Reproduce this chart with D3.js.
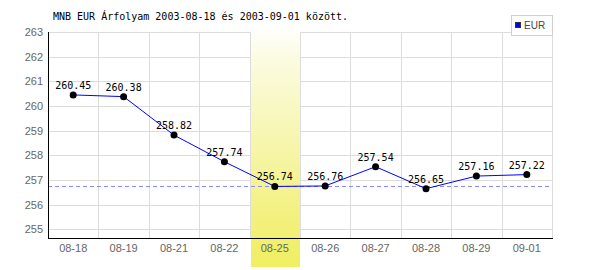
<!DOCTYPE html>
<html>
<head>
<meta charset="utf-8">
<script src="https://cdn.jsdelivr.net/npm/d3@7"></script>
<style>
  body { margin: 0; background: #fff; }
  svg { display: block; }
</style>
</head>
<body>
<svg class="chart"></svg>
<script>
const dates = ['08-18', '08-19', '08-21', '08-22', '08-25', '08-26', '08-27', '08-28', '08-29', '09-01'];
const rates = [260.45, 260.38, 258.82, 257.74, 256.74, 256.76, 257.54, 256.65, 257.16, 257.22];
const yTicks = [255, 256, 257, 258, 259, 260, 261, 262, 263];
const highlightDate = '08-25';
const refLevel = 256.74;
const seriesName = 'EUR';
const title = 'MNB EUR Árfolyam 2003-08-18 és 2003-09-01 között.';

const width = 600, height = 270;
const plotLeft = 48, plotRight = 552, plotTop = 32, plotBottom = 238;

const svg = d3.select('svg.chart')
  .attr('width', width)
  .attr('height', height);

const x = d3.scaleBand().domain(dates).range([plotLeft, plotRight]);
const y = d3.scaleLinear().domain([254.65, 263]).range([plotBottom, plotTop]);

// gradient for the highlighted day
const grad = svg.append('defs').append('linearGradient')
  .attr('id', 'hl').attr('x1', 0).attr('y1', 0).attr('x2', 0).attr('y2', 1);
grad.append('stop').attr('offset', '0%').attr('stop-color', '#ffffff');
grad.append('stop').attr('offset', '15%').attr('stop-color', '#fbfbe0');
grad.append('stop').attr('offset', '100%').attr('stop-color', '#f0ee60');

// grid
svg.append('g')
  .selectAll('line')
  .data(yTicks)
  .join('line')
  .attr('x1', plotLeft).attr('x2', plotRight)
  .attr('y1', d => Math.round(y(d)) + 0.5).attr('y2', d => Math.round(y(d)) + 0.5)
  .attr('stroke', '#dcdcdc');

svg.append('g')
  .selectAll('line')
  .data(dates.slice(1).concat(['end']))
  .join('line')
  .attr('x1', d => Math.round(d === 'end' ? plotRight : x(d)) + 0.5)
  .attr('x2', d => Math.round(d === 'end' ? plotRight : x(d)) + 0.5)
  .attr('y1', plotTop).attr('y2', plotBottom)
  .attr('stroke', '#dcdcdc');

// highlight band
svg.append('rect')
  .attr('x', Math.round(x(highlightDate)) + 1)
  .attr('width', Math.round(x.bandwidth()) - 1)
  .attr('y', 25)
  .attr('height', 242)
  .attr('fill', 'url(#hl)');

// reference level
svg.append('line')
  .attr('x1', plotLeft).attr('x2', plotRight)
  .attr('y1', Math.round(y(refLevel)) + 0.5).attr('y2', Math.round(y(refLevel)) + 0.5)
  .attr('stroke', '#8c8cff')
  .attr('stroke-dasharray', '4,3');

// axes
svg.append('line')
  .attr('x1', plotLeft + 0.5).attr('x2', plotLeft + 0.5)
  .attr('y1', plotTop).attr('y2', plotBottom)
  .attr('stroke', '#000');
svg.append('line')
  .attr('x1', plotLeft).attr('x2', plotRight + 1)
  .attr('y1', plotBottom + 0.5).attr('y2', plotBottom + 0.5)
  .attr('stroke', '#000');

svg.append('g')
  .selectAll('text')
  .data(yTicks)
  .join('text')
  .attr('x', 43)
  .attr('y', d => y(d))
  .attr('dy', '0.35em')
  .attr('text-anchor', 'end')
  .attr('font-family', 'Liberation Sans, Arial, sans-serif')
  .attr('font-size', 11)
  .attr('fill', '#666')
  .text(d => d);

svg.append('g')
  .selectAll('text')
  .data(dates)
  .join('text')
  .attr('x', d => x(d) + x.bandwidth() / 2)
  .attr('y', 248)
  .attr('dy', '0.35em')
  .attr('text-anchor', 'middle')
  .attr('font-family', 'Liberation Sans, Arial, sans-serif')
  .attr('font-size', 11)
  .attr('fill', '#666')
  .text(d => d);

// series
const points = dates.map((d, i) => ({ date: d, rate: rates[i] }));

const line = d3.line()
  .x(d => x(d.date) + x.bandwidth() / 2)
  .y(d => y(d.rate));

svg.append('path')
  .datum(points)
  .attr('d', line)
  .attr('fill', 'none')
  .attr('stroke', '#0000ff')
  .attr('stroke-width', 1);

svg.append('g')
  .selectAll('circle')
  .data(points)
  .join('circle')
  .attr('cx', d => x(d.date) + x.bandwidth() / 2)
  .attr('cy', d => y(d.rate))
  .attr('r', 3.5)
  .attr('fill', '#000');

svg.append('g')
  .selectAll('text')
  .data(points)
  .join('text')
  .attr('x', d => x(d.date) + x.bandwidth() / 2)
  .attr('y', d => y(d.rate) - 6)
  .attr('text-anchor', 'middle')
  .attr('font-family', 'DejaVu Sans Mono, monospace')
  .attr('font-size', 10)
  .attr('fill', '#000')
  .text(d => d.rate.toFixed(2));

// title
svg.append('text')
  .attr('x', 53)
  .attr('y', 20)
  .attr('font-family', 'DejaVu Sans Mono, monospace')
  .attr('font-size', 10)
  .attr('fill', '#000')
  .text(title);

// legend
const legend = svg.append('g');
legend.append('rect')
  .attr('x', 511.5).attr('y', 15.5)
  .attr('width', 41).attr('height', 20)
  .attr('fill', '#fff')
  .attr('stroke', '#d0d0d0');
legend.append('rect')
  .attr('x', 515.5).attr('y', 22.5)
  .attr('width', 5).attr('height', 5)
  .attr('fill', '#0000ff')
  .attr('stroke', '#333');
legend.append('text')
  .attr('x', 524)
  .attr('y', 25.5)
  .attr('dy', '0.35em')
  .attr('font-family', 'Liberation Sans, Arial, sans-serif')
  .attr('font-size', 10)
  .attr('fill', '#444')
  .text(seriesName);
</script>
</body>
</html>
